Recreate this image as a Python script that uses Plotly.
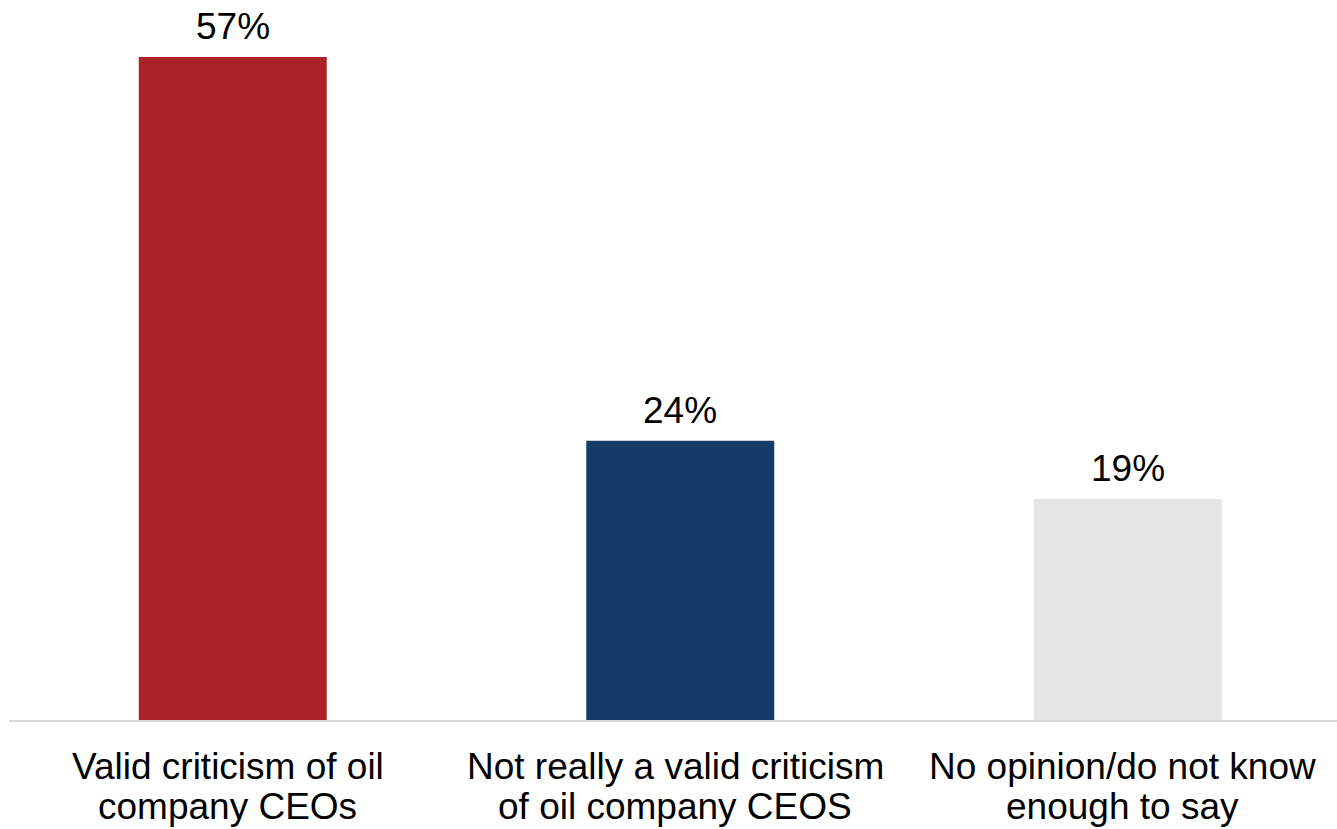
import plotly.graph_objects as go

categories = ["Valid criticism of oil<br>company CEOs",
              "Not really a valid criticism<br>of oil company CEOS",
              "No opinion/do not know<br>enough to say"]
values = [57, 24, 19]
labels = ["57%", "24%", "19%"]
colors = ["#ab2328", "#153c69", "#e5e5e5"]

FONT = "Liberation Sans, Arial"
xs = list(range(len(values)))

fig = go.Figure(go.Bar(
    x=xs, y=values,
    marker=dict(color=colors, line=dict(width=0)),
    width=0.42, hoverinfo="skip",
))

annotations = []
for x, v, lab in zip(xs, values, labels):
    annotations.append(dict(x=x, y=v, xref="x", yref="y", text=lab,
                            showarrow=False, yanchor="bottom", yshift=8,
                            font=dict(family=FONT, size=37, color="#000000")))
for x, cat in zip(xs, categories):
    for k, line in enumerate(cat.split("<br>")):
        annotations.append(dict(x=x, y=0, xref="x", yref="paper", text=line,
                                showarrow=False, yanchor="top",
                                xshift=-5, yshift=-24 - 40 * k,
                                font=dict(family=FONT, size=37, color="#000000")))

fig.update_layout(
    width=1337, height=829,
    margin=dict(l=9, r=0, t=0, b=109),
    paper_bgcolor="white", plot_bgcolor="white",
    showlegend=False,
    font=dict(family=FONT, size=37, color="#000000"),
    xaxis=dict(range=[-0.5, 2.4676], tickvals=xs, showticklabels=False,
               showline=True, linecolor="#d9d9d9", linewidth=2,
               showgrid=False, ticks="", zeroline=False),
    yaxis=dict(range=[0, 61.9], visible=False, showgrid=False, zeroline=False),
    annotations=annotations,
)
fig.write_html("out.html")
